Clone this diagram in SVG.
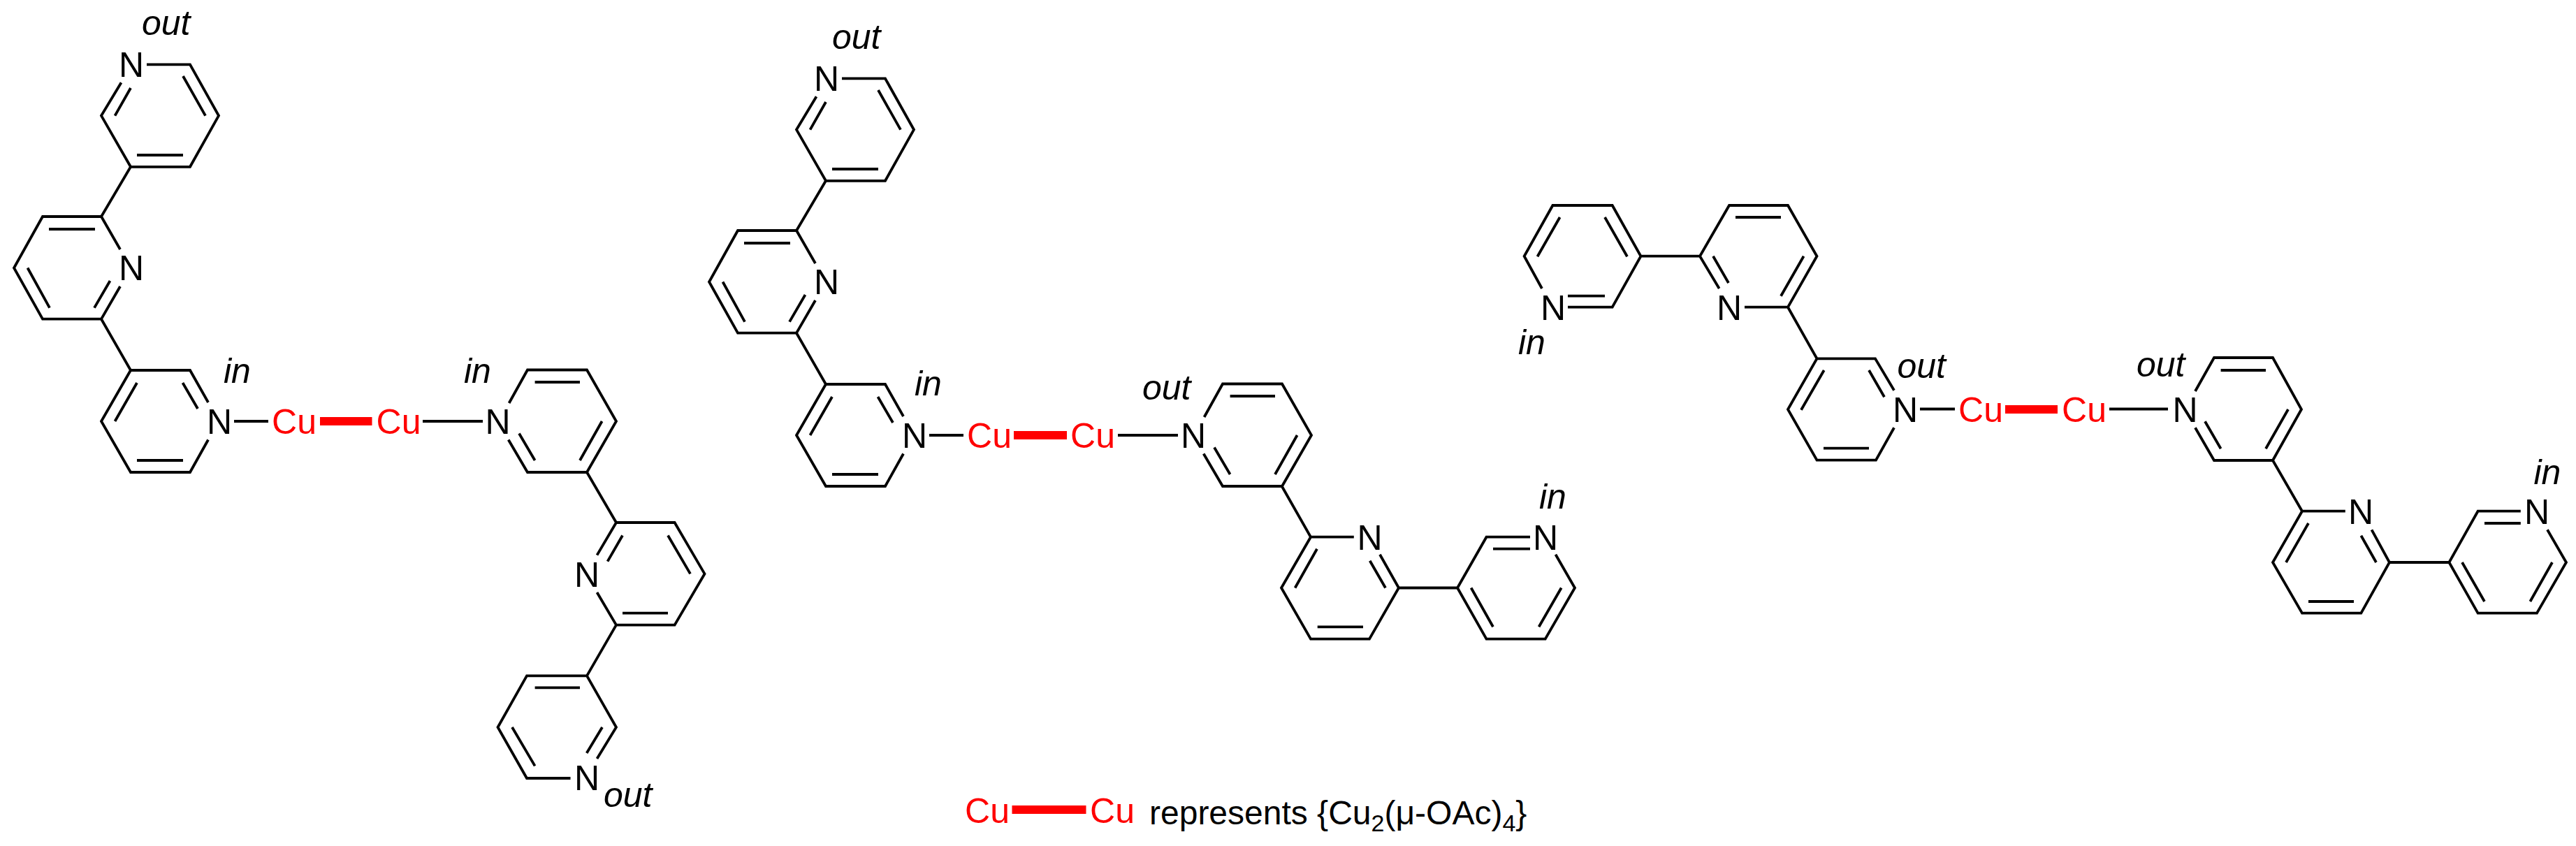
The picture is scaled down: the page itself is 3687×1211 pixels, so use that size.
<svg xmlns="http://www.w3.org/2000/svg" width="3687" height="1211" viewBox="0 0 3687 1211">
<style>
.b{fill:none;stroke:#000;stroke-width:3.8;stroke-linejoin:miter}
.cc{fill:#f00;stroke:none}
text{font-family:"Liberation Sans",Arial,sans-serif;font-size:50px}
.a{text-anchor:middle;fill:#000}
.cu{text-anchor:middle;fill:#f00}
.l{font-style:italic;fill:#000}
.t{font-size:48px;fill:#000}
.s{font-size:34px}
</style>
<rect width="3687" height="1211" fill="#fff"/>
<defs>
<path id="arm" class="b" d="M210 92.4H272L313 165.6L272 238.8H187L145 165.6L173.5 118.3M187 126L164.5 165.6M262 109L294 165.6M196 222H262M187 238.8L145 310M172 357L145 310H61L20 383.5L61 456.7H145L172 410M70 328H136M39.5 383.5L71 440.6M157.5 402L135 440.6M145 456.7L187 530M298 576L272 530H187L145 603L187 676H272L298 629.5M261.5 548L283 585M196 548L164.5 603M196 659H262"/>
<path id="ringD" class="b" d="M728.6 577L755 529.5H840L882 603L840 676H755L727.7 629.5M765.6 547H830M861.6 603L830 659M743 620.5L765.6 659"/>
</defs>

<g id="connectors">
<use href="#arm"/>
<use href="#ringD"/>
<path class="b" d="M840 676L882 748M854.5 794.6L882 748H965.6L1008.5 821.4L965.6 894.6H882L854.5 848M891 766.5L869.6 803.6M956 766.5L988 821.4M891 877.7H956M882 894.6L840 967.4M816.5 1114H754L712.5 1041L754 967.4H840L882 1041L854.5 1086M765.6 984.4H830M733 1041L765.6 1096.4M862 1041L839.7 1078"/>
<path class="b" d="M335 603H384M605 603H691"/>
<rect class="cc" x="458" y="597" width="74.5" height="12"/>

<use href="#arm" transform="translate(995 20)"/>
<use href="#ringD" transform="translate(995 20)"/>
<path class="b" d="M1834.7 696L1876 768.7M1937.8 768.7H1876L1834 841.5L1876 914.7H1960L2002 841.5L1975 793.8M1885 785.7L1853.6 841.5M1885.7 897.3H1951M1960.7 802.7L1983 841.5M2002 841.5H2086M2190 768.7H2127.5L2086 841.5L2127.5 914.7H2211.7L2254 841.5L2226.5 793.8M2137 785.7H2190M2234.7 841.5L2202.6 897.3M2105.6 841.5L2137 897.3"/>
<path class="b" d="M1330 623H1379M1600 623H1686"/>
<rect class="cc" x="1451" y="617" width="76" height="12"/>

<path class="b" d="M2207 413L2181.6 366.7L2222.4 294H2307.7L2348.5 366.7L2307.7 439.7H2244M2244 423.7H2297M2232.6 311L2200.5 367.3M2297 311L2329 367.3M2348.5 366.7H2433M2460.7 413L2433 366.7L2475 294H2559L2600.5 366.7L2559 439.7H2497M2484 311H2549M2581.6 366.7L2549 423.7M2452 366.7L2474 405M2559 439.7L2600.5 513.3M2711 558.7L2684 513.3H2600.5L2559 586L2600.5 658.7H2685L2711 612.3M2675 530L2697 568.3M2610.7 530L2578 586.7M2610 641.7H2675"/>
<path class="b" d="M2748 585.5H2798M3019 585.5H3103"/>
<rect class="cc" x="2870" y="580" width="75" height="12"/>
<path class="b" d="M3142 560L3169 512H3253L3294 586L3253 659H3169L3142 612.3M3178.6 530H3243M3275 586L3243 642.3M3156 603.3L3178.6 642.3M3253 659L3295 731.7M3356.8 731.7H3295L3253 805L3295 877.7H3379.4L3420 805L3394.5 758.3M3379.4 766.7L3401 805M3304 749L3272 805M3304 861H3369M3420 805H3505.4M3607.8 731.7H3546.6L3505.4 805L3546.6 877.7H3631L3673 805L3646 758.3M3556 749H3607.8M3653 805L3621.4 861M3524 805L3556 861"/>

<rect class="cc" x="1448.5" y="1153" width="106" height="12"/>
</g>

<g id="complex-1">
<text class="l" x="203" y="50">out</text>
<text class="a" x="188" y="110">N</text>
<text class="a" x="188" y="401">N</text>
<text class="a" x="314" y="621">N</text>
<text class="l" x="320" y="548">in</text>
<text class="cu" x="421" y="621">Cu</text>
<text class="cu" x="570.5" y="621">Cu</text>
<text class="l" x="664" y="548">in</text>
<text class="a" x="712.5" y="621">N</text>
<text class="a" x="840" y="840">N</text>
<text class="a" x="840" y="1131">N</text>
<text class="l" x="864" y="1155">out</text>
</g>

<g id="complex-2">
<text class="l" x="1191" y="70">out</text>
<text class="a" x="1183" y="130">N</text>
<text class="a" x="1183" y="421">N</text>
<text class="a" x="1309" y="641">N</text>
<text class="l" x="1309" y="566">in</text>
<text class="cu" x="1416" y="641">Cu</text>
<text class="cu" x="1564" y="641">Cu</text>
<text class="l" x="1635" y="572">out</text>
<text class="a" x="1708" y="641">N</text>
<text class="a" x="1960.5" y="786.5">N</text>
<text class="a" x="2212" y="786.5">N</text>
<text class="l" x="2203" y="727.5">in</text>
</g>

<g id="complex-3">
<text class="a" x="2223" y="457.5">N</text>
<text class="l" x="2173" y="507">in</text>
<text class="a" x="2475" y="457.5">N</text>
<text class="a" x="2727" y="603.5">N</text>
<text class="l" x="2715.5" y="541">out</text>
<text class="cu" x="2835" y="604">Cu</text>
<text class="cu" x="2983" y="604">Cu</text>
<text class="l" x="3058" y="538.5">out</text>
<text class="a" x="3127.5" y="604">N</text>
<text class="a" x="3379" y="749.5">N</text>
<text class="a" x="3631" y="749.5">N</text>
<text class="l" x="3626.5" y="692.5">in</text>
</g>

<g id="legend">
<text class="cu" x="1413" y="1177.5">Cu</text>
<text class="cu" x="1592" y="1177.5">Cu</text>
<text class="t" x="1645" y="1179.5">represents {Cu<tspan class="s" dy="10.5">2</tspan><tspan dy="-10.5">(μ-OAc)</tspan><tspan class="s" dy="10.5">4</tspan><tspan dy="-10.5">}</tspan></text>
</g>
</svg>
